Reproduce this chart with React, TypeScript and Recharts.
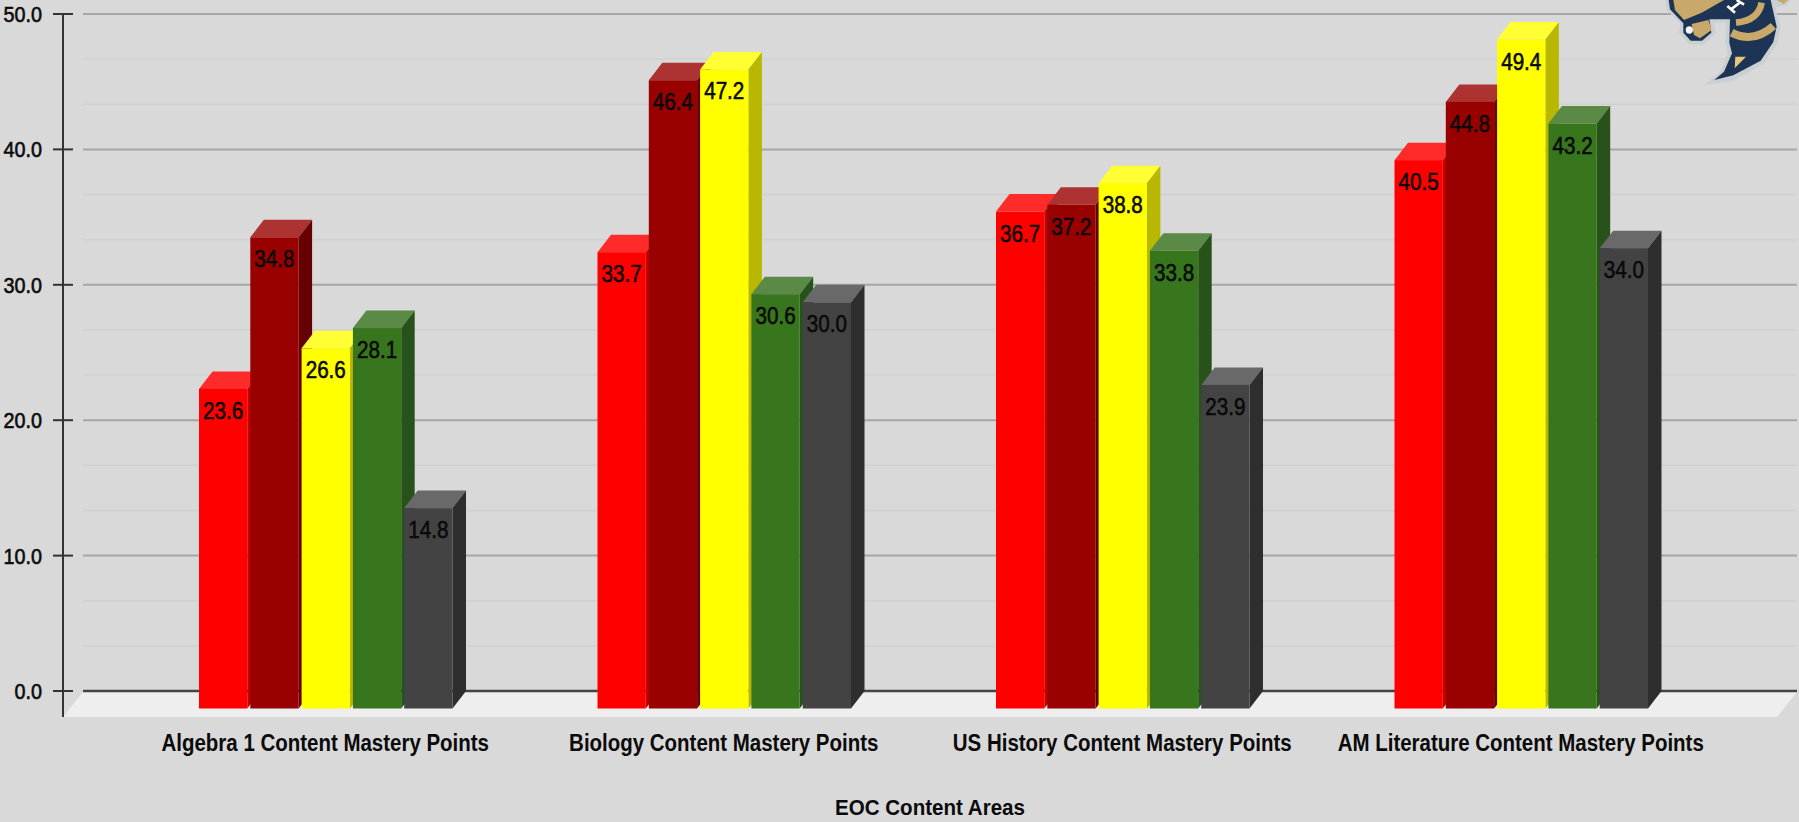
import { Bar, BarChart, CartesianGrid, LabelList, ReferenceLine, XAxis, YAxis } from "recharts";

const categories = [
  "Algebra 1 Content Mastery Points",
  "Biology Content Mastery Points",
  "US History Content Mastery Points",
  "AM Literature Content Mastery Points",
];
const redValues = [23.6, 33.7, 36.7, 40.5];
const darkRedValues = [34.8, 46.4, 37.2, 44.8];
const yellowValues = [26.6, 47.2, 38.8, 49.4];
const greenValues = [28.1, 30.6, 33.8, 43.2];
const greyValues = [14.8, 30.0, 23.9, 34.0];
const majorTicks = [0, 10, 20, 30, 40, 50];
const minorTicks = [3.33, 6.67, 13.33, 16.67, 23.33, 26.67, 33.33, 36.67, 43.33, 46.67];

const rows = categories.map((name, i) => ({
  name,
  red: redValues[i],
  darkRed: darkRedValues[i],
  yellow: yellowValues[i],
  green: greenValues[i],
  grey: greyValues[i],
}));

const FONT = '"Liberation Sans", Arial, sans-serif';
const DEPTH_X = 13.5;
const DEPTH_Y = 17.5;

// no narrow font installed, so squeeze the text sideways
function Squeezed({ x, y, squeeze, size, anchor = "middle", bold = false, children }: any) {
  return (
    <text
      transform={`translate(${x},${y}) scale(${squeeze},1)`}
      textAnchor={anchor}
      fontFamily={FONT}
      fontSize={size}
      fontWeight={bold ? 700 : 400}
      fill="#0a0a0a"
      stroke={bold ? "none" : "#0a0a0a"}
      strokeWidth={bold ? 0 : 0.6}
    >
      {children}
    </text>
  );
}

// fake 3d box: the scale gives the back edge, the front face sits lower by the depth
function box(front: string, top: string, side: string) {
  return (props: any) => {
    const { x, y, width, height } = props;
    const fy = y + DEPTH_Y;
    const r = x + width;
    const b = fy + height;
    return (
      <g>
        <polygon
          points={`${x},${fy} ${x + DEPTH_X},${y} ${r + DEPTH_X},${y} ${r},${fy}`}
          fill={top}
        />
        <polygon
          points={`${r},${fy} ${r + DEPTH_X},${y} ${r + DEPTH_X},${b - DEPTH_Y} ${r},${b}`}
          fill={side}
        />
        <rect x={x} y={fy} width={width} height={height} fill={front} />
      </g>
    );
  };
}

function barValue(props: any) {
  const { x, y, width, value } = props;
  return (
    <Squeezed x={x + width / 2} y={y + DEPTH_Y + 30} squeeze={0.86} size={24}>
      {value.toFixed(1)}
    </Squeezed>
  );
}

function yTick(props: any) {
  const { y, payload } = props;
  return (
    <g>
      <line x1={53} x2={73} y1={y} y2={y} stroke="#333" strokeWidth={2} />
      <Squeezed x={42} y={y + 8} squeeze={0.9} size={22} anchor="end">
        {payload.value.toFixed(1)}
      </Squeezed>
    </g>
  );
}

function xTick(props: any) {
  const { x, y, payload } = props;
  return (
    <Squeezed x={x} y={y + 51.5} squeeze={0.89} size={23} bold>
      {payload.value}
    </Squeezed>
  );
}

function axisTitle(props: any) {
  const { viewBox } = props;
  return (
    <Squeezed x={viewBox.x + viewBox.width / 2 - 10} y={viewBox.y + viewBox.height - 7} squeeze={0.935} size={22} bold>
      EOC Content Areas
    </Squeezed>
  );
}

// floor slab, zero line and the y axis line hang off the zero reference line
function floor(props: any) {
  const { x1, x2, y1 } = props;
  return (
    <g>
      <polygon
        points={`${x1 - 20},${y1 + 26} ${x1},${y1 + 1} ${x2},${y1 + 1} ${x2 - 20},${y1 + 26}`}
        fill="#eeeeee"
      />
      <line x1={x1} x2={x2} y1={y1} y2={y1} stroke="#444" strokeWidth={2.5} />
      <line x1={x1 - 20} x2={x1 - 20} y1={14} y2={y1 + 26} stroke="#333" strokeWidth={2} />
    </g>
  );
}

// rough redraw of the hornet badge in the corner
function Logo() {
  const outline = "M135,0 L140,30 L180,68 L178,100 L205,132 L250,134 L287,100 L282,68 L318,66 L316,130 L324,160 L300,215 L253,256 L340,242 L430,192 L472,130 L482,80 L466,22 L500,16 L512,0 Z";
  const body = "M146,0 L150,28 L190,70 L190,98 L212,122 L246,122 L274,98 L268,58 L330,58 L328,128 L336,160 L312,215 L283,240 L340,226 L422,182 L460,126 L470,80 L452,0 Z";
  return (
    <svg
      viewBox="0 0 537 300"
      width={179}
      height={100}
      style={{ position: "absolute", left: 1620, top: 0 }}
    >
      <path d={outline} fill="#c9cfd2" />
      <path d={body} fill="#1d3454" />
      <polygon points="160,0 165,30 192,60 245,38 312,0" fill="#c8a96a" />
      <polygon points="215,72 265,60 275,90 240,115 222,105" fill="#c8a96a" />
      <circle cx={208} cy={90} r={11} fill="#f4f4f4" />
      <path d="M348,68 Q415,62 425,8" stroke="#c8a96a" strokeWidth={20} fill="none" />
      <path d="M335,98 Q400,132 460,78" stroke="#c8a96a" strokeWidth={24} fill="none" />
      <polygon points="346,170 378,170 344,205" fill="#e6c67c" />
      <polygon points="470,0 505,0 490,12" fill="#c8a96a" />
      <path d="M322,18 L345,38 M350,0 L372,14 M333,28 L362,6" stroke="#fff" strokeWidth={8} fill="none" />
    </svg>
  );
}

export default function App() {
  document.body.style.margin = "0";
  document.body.style.background = "#d9d9d9";
  return (
    <div style={{ position: "relative", width: 1799, height: 822, background: "#d9d9d9", overflow: "hidden" }}>
      <BarChart
        width={1799}
        height={822}
        data={rows}
        margin={{ top: 14, right: 2, bottom: 0, left: 0 }}
        barSize={48.3}
        barGap={3}
      >
        <CartesianGrid vertical={false} horizontalValues={minorTicks} stroke="#d0d0d0" strokeWidth={1.5} />
        <CartesianGrid vertical={false} horizontalValues={majorTicks} stroke="#a6a6a6" strokeWidth={2} />
        <XAxis
          dataKey="name"
          height={131}
          padding={{ left: 43, right: 77 }}
          axisLine={false}
          tickLine={false}
          interval={0}
          tick={xTick}
          label={axisTitle}
        />
        <YAxis
          width={83}
          domain={[0, 50]}
          ticks={majorTicks}
          axisLine={false}
          tickLine={false}
          tick={yTick}
        />
        <ReferenceLine y={0} shape={floor} zIndex={50} />
        <Bar dataKey="red" isAnimationActive={false} shape={box("#ff0000", "#ff2b2b", "#c40000")}>
          <LabelList dataKey="red" content={barValue} />
        </Bar>
        <Bar dataKey="darkRed" isAnimationActive={false} shape={box("#990000", "#ad3333", "#660000")}>
          <LabelList dataKey="darkRed" content={barValue} />
        </Bar>
        <Bar dataKey="yellow" isAnimationActive={false} shape={box("#ffff00", "#ffff33", "#b8b800")}>
          <LabelList dataKey="yellow" content={barValue} />
        </Bar>
        <Bar dataKey="green" isAnimationActive={false} shape={box("#38761d", "#5a8a45", "#27531a")}>
          <LabelList dataKey="green" content={barValue} />
        </Bar>
        <Bar dataKey="grey" isAnimationActive={false} shape={box("#434343", "#696969", "#2e2e2e")}>
          <LabelList dataKey="grey" content={barValue} />
        </Bar>
      </BarChart>
      <Logo />
    </div>
  );
}
